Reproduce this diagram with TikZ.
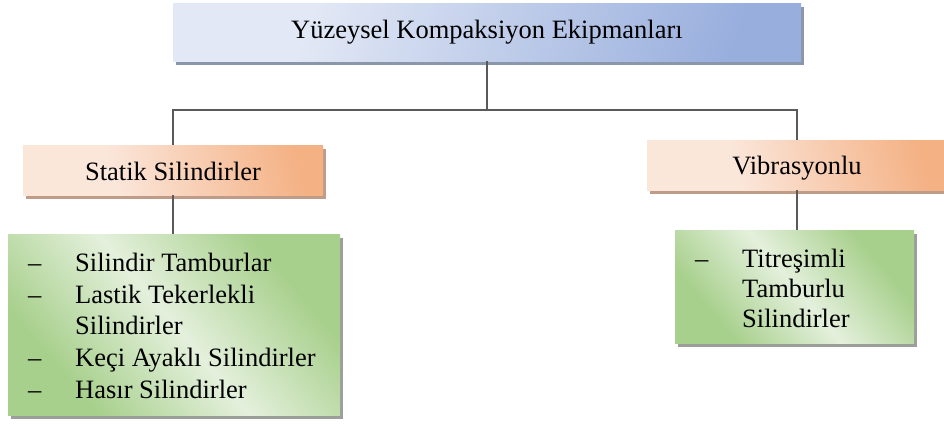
\documentclass[tikz,border=0pt]{standalone}
\usepackage{fontspec}
\setmainfont{Liberation Serif}
\usetikzlibrary{shadows}

\definecolor{blueL}{HTML}{E2E8F5}
\definecolor{blueD}{HTML}{98AEDD}
\definecolor{orangeL}{HTML}{FBE6DA}
\definecolor{orangeD}{HTML}{F4B184}
\definecolor{greenL}{HTML}{E4F0DC}
\definecolor{greenD}{HTML}{A8D08D}
\definecolor{shadowBlue}{HTML}{8A96AA}
\definecolor{shadowOrange}{HTML}{BF9C88}
\definecolor{shadowGreen}{HTML}{9C9E9A}
\definecolor{lineGray}{HTML}{5A5A5A}

% gradient fills (path edges sit at 25bp and 75bp)
\pgfdeclarehorizontalshading{bluefade}{100bp}{color(0bp)=(blueL); color(32bp)=(blueL); color(75bp)=(blueD); color(100bp)=(blueD)}
\pgfdeclarehorizontalshading{orangefade}{100bp}{color(0bp)=(orangeL); color(38bp)=(orangeL); color(75bp)=(orangeD); color(100bp)=(orangeD)}
\pgfdeclarehorizontalshading{greenband}{100bp}{color(0bp)=(greenD); color(28bp)=(greenD); color(50bp)=(greenL); color(72bp)=(greenD); color(100bp)=(greenD)}

\tikzset{
  txt/.style={font=\fontsize{26.5}{31.5}\selectfont},
  headbox/.style={inner sep=0pt, shading=bluefade, shading angle=-20,
    general shadow={shadow xshift=3pt, shadow yshift=-4pt, fill=shadowBlue}},
  groupbox/.style={inner sep=0pt, shading=orangefade, shading angle=15,
    general shadow={shadow xshift=3pt, shadow yshift=-4pt, fill=shadowOrange}},
  listbox/.style={inner sep=0pt, shading=greenband, shading angle=40,
    general shadow={shadow xshift=3pt, shadow yshift=-4pt, fill=shadowGreen}},
  conn/.style={draw=lineGray, line width=2.4pt},
  title/.style={txt, anchor=base, inner sep=0pt},
  item/.style={txt, anchor=base west, inner sep=0pt},
}

\begin{document}
\begin{tikzpicture}[x=1pt, y=-1pt]
\useasboundingbox (0,0) rectangle (944,423);

% heading boxes
\node[headbox, minimum width=628pt, minimum height=58pt] (top) at (487,32) {};
\node[groupbox, minimum width=300pt, minimum height=50pt] (static) at (173,170) {};
\node[groupbox, minimum width=300pt, minimum height=50pt] (vib) at (797,165) {};

% item panels
\node[listbox, minimum width=332pt, minimum height=181pt] (llist) at (174,324.5) {};
\node[listbox, minimum width=239pt, minimum height=113pt] (rlist) at (794.5,286.5) {};

% connectors
\coordinate (bar) at (487,110);
\draw[conn] (top.south) -- (bar);
\draw[conn] (static.north) |- (bar) -| (vib.north);
\draw[conn] (static.south) -- (static.south |- llist.north);
\draw[conn] (vib.south) -- (vib.south |- rlist.north);

% heading texts
\node[title] (topT) at (487,38) {Yüzeysel Kompaksiyon Ekipmanları};
\node[title] (staticT) at (173,180) {Statik Silindirler};
\node[title] (vibT) at (797,174) {Vibrasyonlu};

% left list
\node[item] (ld1) at (28,271) {–};
\node[item] (lt1) at (75,271) {Silindir Tamburlar};
\node[item] (ld2) at (28,303) {–};
\node[item] (lt2) at (75,303) {Lastik Tekerlekli};
\node[item] (lt2b) at (75,334) {Silindirler};
\node[item] (ld3) at (28,366) {–};
\node[item] (lt3) at (75,366) {Keçi Ayaklı Silindirler};
\node[item] (ld4) at (28,398) {–};
\node[item] (lt4) at (75,398) {Hasır Silindirler};

% right list
\node[item] (rd1) at (695,267) {–};
\node[item] (rt1) at (742,267) {Titreşimli};
\node[item] (rt1b) at (742,297) {Tamburlu};
\node[item] (rt1c) at (742,327) {Silindirler};
\end{tikzpicture}
\end{document}
